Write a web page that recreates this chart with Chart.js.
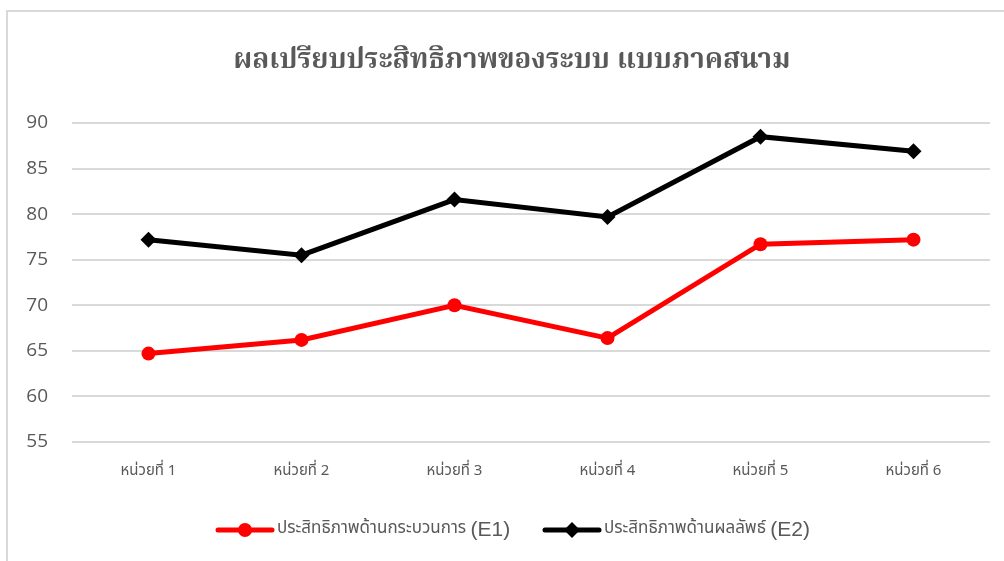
<!DOCTYPE html>
<html>
<head>
<meta charset="utf-8">
<script src="https://cdn.jsdelivr.net/npm/chart.js@4/dist/chart.umd.min.js"></script>
<style>
  html, body { margin: 0; padding: 0; background: #ffffff; }
  #wrap { position: relative; width: 1004px; height: 561px; }
  canvas { display: block; }
</style>
</head>
<body>
<div id="wrap"><canvas id="c" width="1004" height="561"></canvas></div>
<script>
const chartTitle = 'ผลเปรียบประสิทธิภาพของระบบ แบบภาคสนาม';
const categories = ['หน่วยที่ 1', 'หน่วยที่ 2', 'หน่วยที่ 3', 'หน่วยที่ 4', 'หน่วยที่ 5', 'หน่วยที่ 6'];
const seriesNames = ['ประสิทธิภาพด้านกระบวนการ', 'ประสิทธิภาพด้านผลลัพธ์'];
const seriesCodes = ['(E1)', '(E2)'];
const e1Values = [64.7, 66.2, 70.0, 66.4, 76.7, 77.2];
const e2Values = [77.2, 75.5, 81.6, 79.7, 88.5, 86.9];
const yTicks = [55, 60, 65, 70, 75, 80, 85, 90];

const thaiFont = '"Noto Sans Thai", "Noto Serif Thai", "Garuda", "Loma", "Tlwg Typo", "DejaVu Sans", sans-serif';
const serifThai = '"Noto Serif Thai", "Noto Sans Thai", "Garuda", "Loma", "DejaVu Serif", serif';
const grey = '#595959';

const decor = {
  id: 'decor',
  afterDraw(chart) {
    const ctx = chart.ctx;
    ctx.save();
    // frame
    ctx.strokeStyle = '#d9d9d9';
    ctx.lineWidth = 2;
    ctx.beginPath();
    ctx.moveTo(7, 561);
    ctx.lineTo(7, 11);
    ctx.lineTo(1004, 11);
    ctx.stroke();
    // title
    ctx.fillStyle = grey;
    ctx.font = 'bold 27.6px ' + serifThai;
    ctx.textAlign = 'center';
    ctx.textBaseline = 'middle';
    ctx.fillText(chartTitle, 512, 63);
    // legend
    const items = [
      { x: 218, color: '#ff0000', style: 'circle', name: seriesNames[0], code: seriesCodes[0] },
      { x: 545, color: '#000000', style: 'diamond', name: seriesNames[1], code: seriesCodes[1] }
    ];
    const ly = 530;
    items.forEach(it => {
      ctx.strokeStyle = it.color;
      ctx.lineWidth = 5;
      ctx.lineCap = 'round';
      ctx.beginPath();
      ctx.moveTo(it.x, ly);
      ctx.lineTo(it.x + 54, ly);
      ctx.stroke();
      ctx.fillStyle = it.color;
      const cx = it.x + 27;
      ctx.beginPath();
      if (it.style === 'circle') {
        ctx.arc(cx, ly, 7, 0, Math.PI * 2);
      } else {
        ctx.moveTo(cx, ly - 8); ctx.lineTo(cx + 8, ly); ctx.lineTo(cx, ly + 8); ctx.lineTo(cx - 8, ly); ctx.closePath();
      }
      ctx.fill();
      ctx.fillStyle = grey;
      ctx.textAlign = 'left';
      ctx.textBaseline = 'middle';
      ctx.font = '17px ' + thaiFont;
      const tx = it.x + 59;
      ctx.fillText(it.name + ' ', tx, ly);
      const w = ctx.measureText(it.name + ' ').width;
      ctx.font = '21px "Liberation Sans", "DejaVu Sans", sans-serif';
      ctx.fillText(it.code, tx + w, ly);
    });
    ctx.restore();
  }
};

new Chart(document.getElementById('c'), {
  type: 'line',
  data: {
    labels: categories,
    datasets: [
      {
        label: seriesNames[0] + ' ' + seriesCodes[0],
        data: e1Values,
        borderColor: '#ff0000',
        backgroundColor: '#ff0000',
        borderWidth: 5,
        pointStyle: 'circle',
        pointRadius: 7,
        pointHoverRadius: 7,
        pointBorderWidth: 0,
        tension: 0
      },
      {
        label: seriesNames[1] + ' ' + seriesCodes[1],
        data: e2Values,
        borderColor: '#000000',
        backgroundColor: '#000000',
        borderWidth: 5,
        pointStyle: 'rectRot',
        pointRadius: 8,
        pointHoverRadius: 8,
        pointBorderWidth: 0,
        tension: 0
      }
    ]
  },
  options: {
    responsive: false,
    animation: false,
    layout: { padding: { top: 123, right: 14, bottom: 69, left: 0 } },
    plugins: {
      legend: { display: false },
      title: { display: false },
      tooltip: { enabled: false }
    },
    scales: {
      x: {
        offset: true,
        grid: { display: false, drawTicks: false },
        border: { display: false },
        ticks: { color: grey, font: { family: thaiFont, size: 15 }, padding: 21, maxRotation: 0 },
        afterFit(s) { s.height = 50; }
      },
      y: {
        min: 55,
        max: 90,
        afterBuildTicks(s) { s.ticks = yTicks.map(v => ({ value: v })); },
        grid: { color: '#d9d9d9', lineWidth: 2, drawTicks: false },
        border: { display: false },
        ticks: { color: grey, font: { family: '"Open Sans", "DejaVu Sans", sans-serif', size: 19 }, padding: 24 },
        afterFit(s) { s.width = 72; }
      }
    }
  },
  plugins: [decor]
});
</script>
</body>
</html>
